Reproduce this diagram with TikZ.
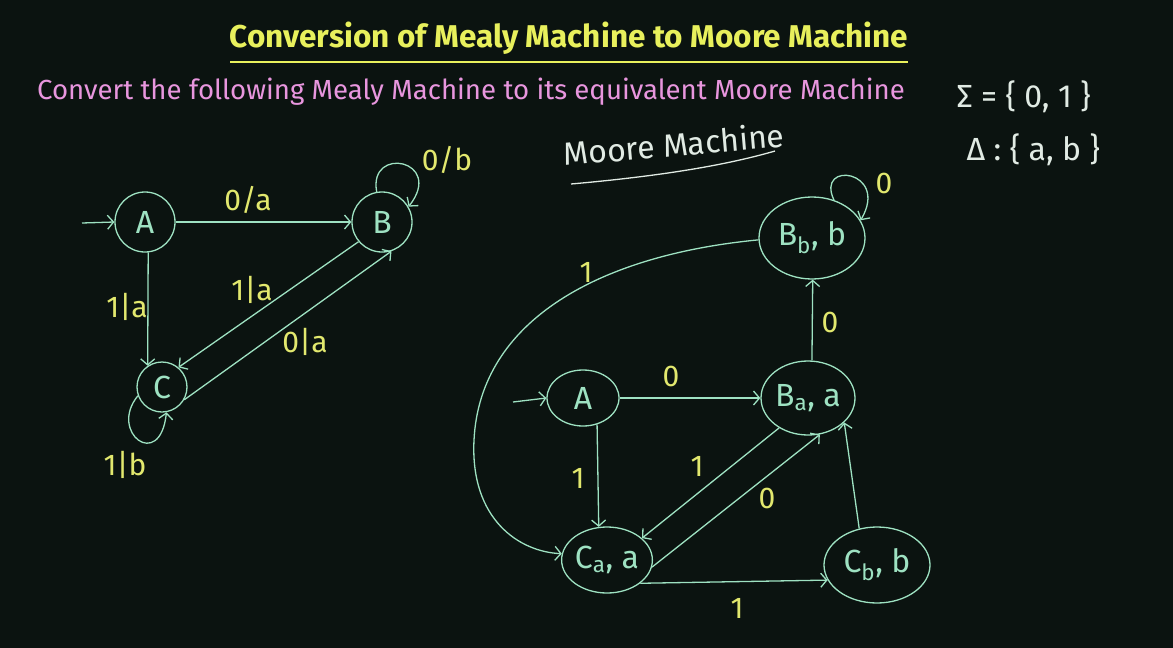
\documentclass[tikz,border=0pt]{standalone}
\usepackage{fontspec}
\setmainfont{Fira Sans}
\usetikzlibrary{arrows.meta, positioning, shapes.geometric}
\definecolor{board}{RGB}{11,19,16}
\definecolor{chalk}{RGB}{158,226,194}
\definecolor{titleyellow}{RGB}{232,240,92}
\definecolor{subpink}{RGB}{232,150,222}
\definecolor{lblyellow}{RGB}{226,232,110}
\definecolor{inkwhite}{RGB}{225,235,228}

\tikzset{
  mealystate/.style={draw=chalk, line width=1.3pt, circle, inner sep=0pt, text=chalk, font=\fontsize{32}{34}\selectfont},
  moorestate/.style={draw=chalk, line width=1.3pt, ellipse, inner sep=0pt, text=chalk, font=\fontsize{32}{34}\selectfont},
  edge/.style={chalk, line width=1.3pt, -{Straight Barb[length=6pt,width=14pt]}},
  lbl/.style={text=lblyellow, font=\fontsize{30}{32}\selectfont},
  ink/.style={text=inkwhite, font=\fontsize{32}{34}\selectfont}
}

\begin{document}
\begin{tikzpicture}[x=1pt, y=-1pt]
  \fill[board] (0,0) rectangle (1173,648);
  \useasboundingbox (0,0) rectangle (1173,648);
  % Heading
  \node[text=titleyellow, font=\fontsize{31.5}{34}\selectfont\bfseries] (title) at (569,38) {Conversion of Mealy Machine to Moore Machine};
  \draw[titleyellow, line width=2.5pt] (230,62) -- (908,62);
  \node[text=subpink, font=\fontsize{27.6}{29}\selectfont] (task) at (471,92) {Convert the following Mealy Machine to its equivalent Moore Machine};
  \node[ink, anchor=west] (sigmaSet) at (953,97) {Σ = \{ 0, 1 \}};
  \node[ink, anchor=west] (deltaSet) at (963,150) {Δ : \{ a, b \}};
  % Mealy machine
  \node[mealystate, minimum size=60pt] (mealyA) at (145,222) {A};
  \node[mealystate, minimum size=60pt] (mealyB) at (382,222) {B};
  \node[mealystate, minimum size=50pt] (mealyC) at (162,387) {C};
  \coordinate (mealyStart) at (82,223);
  \draw[edge] (mealyStart) -- (mealyA.180);
  \draw[edge] (mealyA.0) -- (mealyB.180);
  \draw[edge] (mealyA.-84) -- (mealyC.124);
  \draw[edge] (mealyB.220) -- (mealyC.50);
  \draw[edge] (mealyC.-30) -- (mealyB.-72);
  \draw[edge] (mealyB.100) .. controls (368,145) and (445,160) .. (mealyB.30);
  \draw[edge] (mealyC.200) .. controls (108,432) and (160,472) .. (mealyC.-80);
  \node[lbl] at (248,200) {0/a};
  \node[lbl] at (127,307) {1|a};
  \node[lbl] at (252,290) {1|a};
  \node[lbl] at (305,342) {0|a};
  \node[lbl] at (447,160) {0/b};
  \node[lbl] at (125,465) {1|b};
  % Moore machine
  \node[ink, rotate=5] (mooreHead) at (674,144) {Moore Machine};
  \draw[inkwhite, line width=1.3pt] (571,184) .. controls (650,177) and (720,167) .. (775,151);
  \node[moorestate, minimum width=72pt, minimum height=56pt] (mooreA) at (583,398) {A};
  \node[moorestate, minimum width=94pt, minimum height=74pt] (mooreBa) at (808,398) {B\textsubscript{a}, a};
  \node[moorestate, minimum width=106pt, minimum height=82pt] (mooreBb) at (812,238) {B\textsubscript{b}, b};
  \node[moorestate, minimum width=90pt, minimum height=66pt] (mooreCa) at (607,560) {C\textsubscript{a}, a};
  \node[moorestate, minimum width=106pt, minimum height=76pt] (mooreCb) at (877,565) {C\textsubscript{b}, b};
  \coordinate (mooreStart) at (513,402);
  \draw[edge] (mooreStart) -- (mooreA.180);
  \draw[edge] (mooreA.0) -- (mooreBa.180);
  \draw[edge] (mooreA.-62) -- (mooreCa.104);
  \draw[edge] (mooreBa.226) -- (mooreCa.32);
  \draw[edge] (mooreCa.-9) -- (mooreBa.-72);
  \draw[edge] (mooreCa.-35) -- (mooreCb.197);
  \draw[edge] (mooreCb.116) -- (mooreBa.-34);
  \draw[edge] (mooreBa.84) -- (mooreBb.-89);
  \draw[edge] (mooreBb.60) .. controls (815,160) and (890,170) .. (mooreBb.20);
  \draw[edge] (mooreBb.182) .. controls (600,255) and (480,320) .. (474,440) .. controls (470,520) and (520,552) .. (mooreCa.172);
  \node[lbl] at (671,376) {0};
  \node[lbl] at (578,478) {1};
  \node[lbl] at (697,466) {1};
  \node[lbl] at (767,498) {0};
  \node[lbl] at (737,608) {1};
  \node[lbl] at (830,322) {0};
  \node[lbl] at (884,183) {0};
  \node[lbl] at (586,272) {1};
\end{tikzpicture}
\end{document}
